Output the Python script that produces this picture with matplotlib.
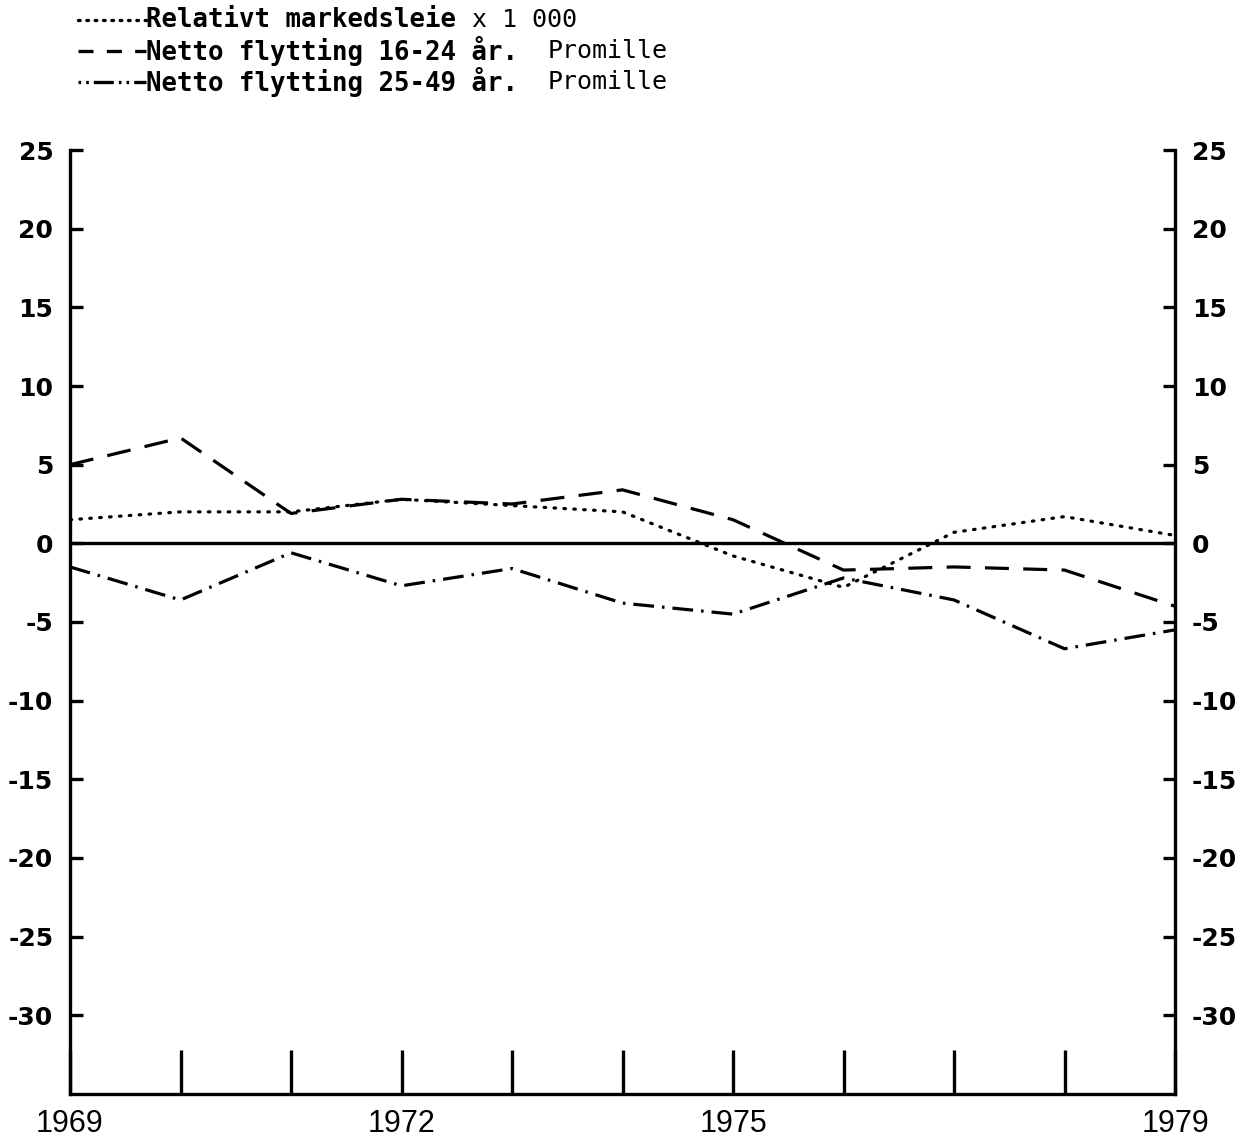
import matplotlib
matplotlib.use("Agg")
import matplotlib.pyplot as plt
from matplotlib.lines import Line2D
import matplotlib.ticker as mticker

plt.rcParams["axes.unicode_minus"] = False

years = [1969, 1970, 1971, 1972, 1973, 1974, 1975, 1976, 1977, 1978, 1979]
markedsleie = [1.5, 2.0, 2.0, 2.8, 2.4, 2.0, -0.8, -2.8, 0.7, 1.7, 0.5]
flytting_16_24 = [5.0, 6.7, 1.9, 2.8, 2.5, 3.4, 1.5, -1.7, -1.5, -1.7, -4.0]
flytting_25_49 = [-1.5, -3.6, -0.6, -2.7, -1.6, -3.8, -4.5, -2.2, -3.6, -6.7, -5.5]

ytick_vals = [25, 20, 15, 10, 5, 0, -5, -10, -15, -20, -25, -30]
xtick_labels = [1969, 1972, 1975, 1979]
legend_bold = ["Relativt markedsleie", "Netto flytting 16-24 år.", "Netto flytting 25-49 år."]
legend_tail = ["x 1 000", "Promille", "Promille"]

W, H = 1250, 1144
fig = plt.figure(figsize=(W / 100, H / 100), dpi=100)
ax = fig.add_axes([70 / W, 1 - 1094 / H, (1175 - 70) / W, (1094 - 150) / H])

lw = 2.3
styles = [
    dict(dashes=(0.5, 2.6), dash_capstyle="round"),
    dict(dashes=(7.5, 4.5), dash_capstyle="butt"),
    dict(dashes=(6.5, 2.5, 0.8, 2.5), dash_capstyle="butt"),
]
series = [markedsleie, flytting_16_24, flytting_25_49]
for s, st in zip(series, styles):
    ax.plot(years, s, color="black", lw=lw, **st)

ax.axhline(0, color="black", lw=2.4)

ax.set_xlim(1969, 1979)
ax.set_ylim(-35, 25)

for sp in ["left", "right", "bottom"]:
    ax.spines[sp].set_linewidth(2.4)
ax.spines["top"].set_visible(False)

# y ticks on both sides, inward
ax.set_yticks(ytick_vals)
ax.tick_params(axis="y", which="major", direction="in", length=9, width=2.4,
               left=True, right=True, labelleft=True, labelright=True,
               pad=12, labelsize=18)
for lab in ax.get_yticklabels():
    lab.set_fontweight("bold")
    lab.set_family("DejaVu Sans")

# x ticks: inner tick marks at every year, labels only at selected years
ax.xaxis.set_major_locator(mticker.FixedLocator(years))
ax.xaxis.set_major_formatter(mticker.FixedFormatter(
    [str(y) if y in xtick_labels else "" for y in years]))
ax.tick_params(axis="x", which="major", direction="in", length=32, width=2.4,
               pad=11, labelsize=22)
for lab in ax.get_xticklabels():
    lab.set_family(["Liberation Sans Narrow", "Liberation Sans", "DejaVu Sans"])

# legend at top
rows_y = [20, 51, 82]
samples = [
    dict(dashes=(0.5, 2.0), dash_capstyle="round"),
    dict(dashes=(4.5, 4.0), dash_capstyle="butt"),
    dict(dashes=(0.8, 1.5, 0.8, 1.5, 6, 1.5), dash_capstyle="butt"),
]
for i, (yy, st) in enumerate(zip(rows_y, samples)):
    fy = 1 - yy / H
    fig.add_artist(Line2D([78 / W, 146 / W], [fy, fy], transform=fig.transFigure,
                          color="black", lw=2.4, **st))
    fig.text(146 / W, fy, legend_bold[i], fontsize=18.5, fontweight="bold",
             family="DejaVu Sans Mono", va="center", ha="left")
tail_x = [472, 548, 548]
for i, yy in enumerate(rows_y):
    fig.text(tail_x[i] / W, 1 - yy / H, legend_tail[i], fontsize=18,
             family="DejaVu Sans Mono", va="center", ha="left")

fig.savefig("out.png", dpi=100, facecolor="white")
